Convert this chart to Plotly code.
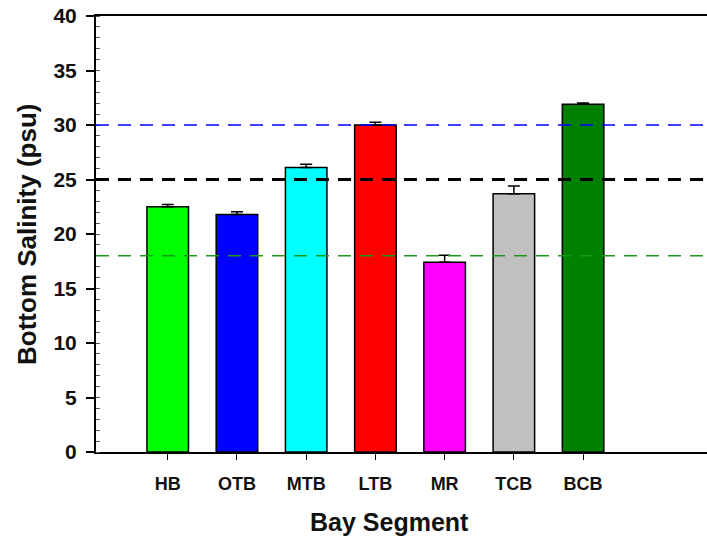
import plotly.graph_objects as go

segments = ["HB", "OTB", "MTB", "LTB", "MR", "TCB", "BCB"]
salinity = [22.5, 21.8, 26.1, 30.0, 17.4, 23.7, 31.9]
errors = [0.2, 0.25, 0.3, 0.25, 0.65, 0.7, 0.12]
colors = ["#00ff00", "#0000ff", "#00ffff", "#ff0000", "#ff00ff", "#c0c0c0", "#008000"]
ref_levels = [30, 25, 18]
ref_colors = ["#0000ff", "#000000", "#1a9a1a"]
ref_widths = [1.5, 2.8, 1.5]

FONT = "Liberation Sans, Arial, sans-serif"

fig = go.Figure()
fig.add_trace(go.Bar(
    x=list(range(len(segments))), y=salinity,
    marker=dict(color=colors, line=dict(color="black", width=1.5)),
    width=0.6,
    error_y=dict(type="data", array=errors, arrayminus=[0]*len(errors), symmetric=False,
                 color="black", thickness=1.5, width=6),
    showlegend=False,
))

for lvl, c, w in zip(ref_levels, ref_colors, ref_widths):
    fig.add_shape(type="line", xref="paper", x0=0, x1=1, yref="y", y0=lvl, y1=lvl,
                  line=dict(color=c, width=w, dash="13px,9px"), layer="above")

fig.update_layout(
    width=707, height=543,
    margin=dict(l=96, r=0, t=16, b=91, autoexpand=False),
    plot_bgcolor="white", paper_bgcolor="white",
    font=dict(family=FONT, color="black"),
)
fig.update_xaxes(
    range=[-1.036, 7.79],
    tickmode="array", tickvals=list(range(len(segments))), ticktext=segments,
    showline=True, linecolor="black", linewidth=2, mirror=True,
    ticks="outside", ticklen=6, tickwidth=1, tickcolor="black",
    ticklabelstandoff=8,
    tickfont=dict(family=FONT, size=18, color="#111", weight="bold"),
    showgrid=False, zeroline=False,
)
fig.update_yaxes(
    range=[0, 40], dtick=5,
    showline=True, linecolor="black", linewidth=2,
    ticks="outside", ticklen=8, tickwidth=1.5, tickcolor="black",
    ticklabeloverflow="allow", ticklabelstandoff=5,
    tickfont=dict(family=FONT, size=21, color="#111", weight="bold"),
    minor=dict(ticks="inside", dtick=1, ticklen=4, tickcolor="#555", tickwidth=1),
    showgrid=False, zeroline=False,
)
fig.add_annotation(text="<b>Bottom Salinity (psu)</b>", textangle=-90,
                   xref="paper", yref="paper", x=-0.113, y=0.5, showarrow=False,
                   xanchor="center", yanchor="middle",
                   font=dict(family=FONT, size=26, color="#111"))
fig.add_annotation(text="<b>Bay Segment</b>",
                   xref="paper", yref="paper", x=0.481, y=-0.16, showarrow=False,
                   xanchor="center", yanchor="middle",
                   font=dict(family=FONT, size=25, color="#111"))

fig.write_html("out.html", config={"displayModeBar": False},
               post_script="document.body.style.margin='0';document.body.style.overflow='hidden';")
